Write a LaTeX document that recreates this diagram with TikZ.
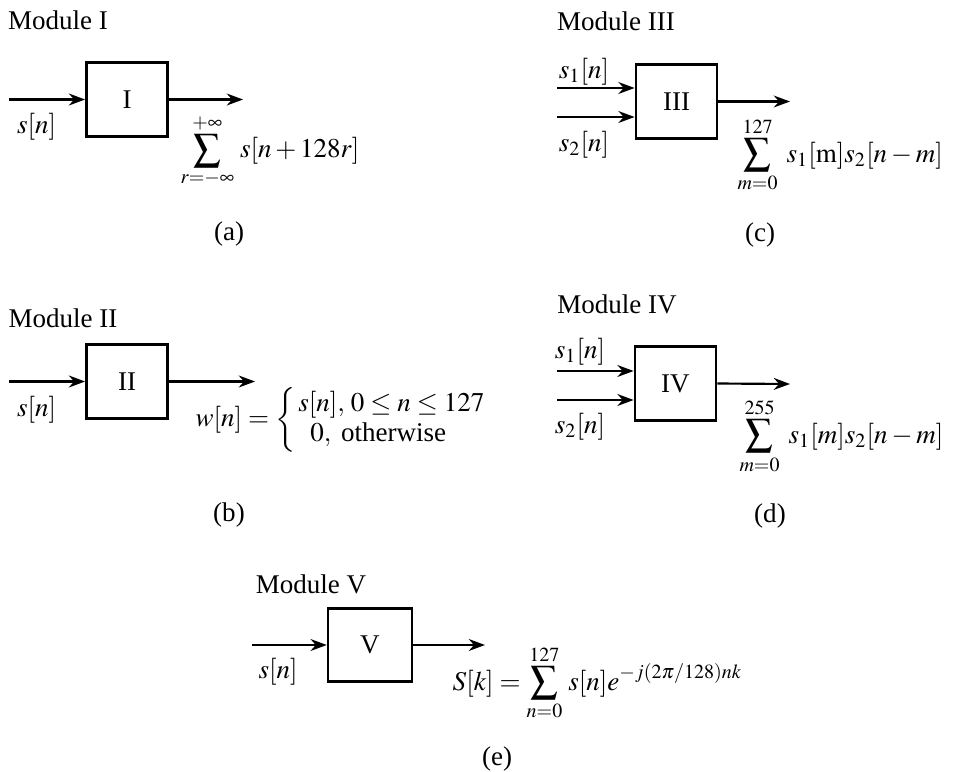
\documentclass[tikz,border=0pt]{standalone}
\usepackage{amsmath}
\usepackage{mathptmx}
\usepackage[no-math]{fontspec}
\setmainfont{Liberation Serif}
\usetikzlibrary{arrows.meta,positioning,calc}

\tikzset{
  modbox/.style={draw,line width=1pt,minimum width=30pt,minimum height=27.2pt,inner sep=0pt},
  sig/.style={-{Stealth[length=6pt,width=4.4pt]},line width=0.8pt},
  formula/.style={anchor=west,inner sep=0pt},
}

\begin{document}
\begin{tikzpicture}[x=0.37pt,y=-0.37pt]
\useasboundingbox (0,0) rectangle (961,772);
% module I
\begin{scope}
  \node (titleI) at (58,20) {Module I};
  \node[modbox] (boxI) at (127,99.5) {I};
  \coordinate (inI) at (9,99.5);
  \coordinate (outI) at (243,99.5);
  \draw[sig] (inI) -- (boxI.west);
  \draw[sig] (boxI.east) -- (outI);
  \node (sI) at (36.5,127) {$s[n]$};
  \node[formula] (fI) at (180,151) {$\displaystyle\sum_{r=-\infty}^{+\infty}\, s[n+128r]$};
  \node (capa) at (229,234) {(a)};
\end{scope}
% module II
\begin{scope}
  \node (titleII) at (63,318) {Module II};
  \node[modbox] (boxII) at (127,381.5) {II};
  \coordinate (inII) at (9,381.5);
  \coordinate (outII) at (255,381.5);
  \draw[sig] (inII) -- (boxII.west);
  \draw[sig] (boxII.east) -- (outII);
  \node (sII) at (36.5,410) {$s[n]$};
  \node[formula] (fII) at (195,420) {$w[n]=\left\{\begin{array}{@{\,}l@{}}
      s[n],\,0\le n\le 127\\[-1pt]
      \;\;0,\ \text{otherwise}
    \end{array}\right.$};
  \node (capb) at (229,515) {(b)};
\end{scope}
% module III
\begin{scope}
  \node (titleIII) at (616,21) {Module III};
  \node[modbox] (boxIII) at (676.5,101.5) {III};
  \coordinate (inIIIa) at (557,88);
  \coordinate (inIIIb) at (557,117);
  \coordinate (outIII) at (790,101.5);
  \draw[sig] (inIIIa) -- (inIIIa -| boxIII.west);
  \draw[sig] (inIIIb) -- (inIIIb -| boxIII.west);
  \draw[sig] (boxIII.east) -- (outIII);
  \node (s1III) at (584,72) {$s_1[n]$};
  \node (s2III) at (584,145) {$s_2[n]$};
  \node[formula] (fIII) at (737,155) {$\displaystyle\sum_{m=0}^{127}\; s_1[\mathrm{m}]s_2[n-m]$};
  \node (capc) at (760,235) {(c)};
\end{scope}
% module IV
\begin{scope}
  \node (titleIV) at (617,304) {Module IV};
  \node[modbox] (boxIV) at (675.5,383.5) {IV};
  \coordinate (inIVa) at (557,371);
  \coordinate (inIVb) at (557,400);
  \coordinate (outIV) at (790,384);
  \draw[sig] (inIVa) -- (inIVa -| boxIV.west);
  \draw[sig] (inIVb) -- (inIVb -| boxIV.west);
  \draw[sig] (boxIV.east) -- (outIV);
  \node (s1IV) at (580,352) {$s_1[n]$};
  \node (s2IV) at (580,427) {$s_2[n]$};
  \node[formula] (fIV) at (739,436) {$\displaystyle\sum_{m=0}^{255}\; s_1[m]s_2[n-m]$};
  \node (capd) at (770,516) {(d)};
\end{scope}
% module V
\begin{scope}
  \node (titleV) at (311,584) {Module V};
  \node[modbox,minimum width=31pt] (boxV) at (370,645) {V};
  \coordinate (inV) at (252,645);
  \coordinate (outV) at (485,645);
  \draw[sig] (inV) -- (boxV.west);
  \draw[sig] (boxV.east) -- (outV);
  \node (sV) at (278,672) {$s[n]$};
  \node[formula] (fV) at (452,683) {$S[k]=\displaystyle\sum_{n=0}^{127}\, s[n]e^{-j(2\pi/128)nk}$};
  \node (cape) at (497,759) {(e)};
\end{scope}
\end{tikzpicture}
\end{document}
